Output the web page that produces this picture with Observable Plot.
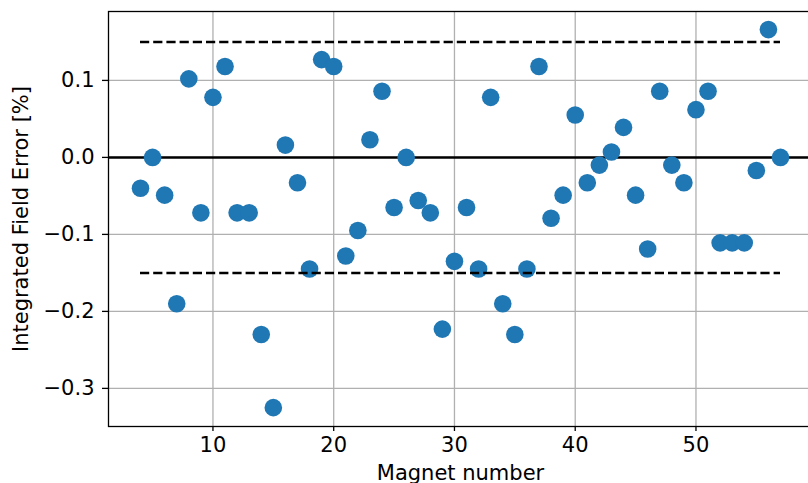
<!DOCTYPE html>
<html><head><meta charset="utf-8">
<script src="https://cdn.jsdelivr.net/npm/d3@7"></script>
<script src="https://cdn.jsdelivr.net/npm/@observablehq/plot@0.6"></script>
<style>html,body{margin:0;padding:0;overflow:hidden;background:#fff}#chart svg{display:block;max-width:none !important}</style>
</head><body><div id="chart"></div>
<script>
const magnets = [4,5,6,7,8,9,10,11,12,13,14,15,16,17,18,19,20,21,22,23,24,25,26,27,28,29,30,
  31,32,33,34,35,36,37,38,39,40,41,42,43,44,45,46,47,48,49,50,51,52,53,54,55,56,57];
const errors = [-0.040,0.000,-0.049,-0.190,0.102,-0.072,0.078,0.118,-0.072,-0.072,-0.230,-0.325,
  0.016,-0.033,-0.145,0.127,0.118,-0.128,-0.095,0.023,0.086,-0.065,0.000,-0.056,-0.072,-0.223,
  -0.135,-0.065,-0.145,0.078,-0.190,-0.230,-0.145,0.118,-0.079,-0.049,0.055,-0.033,-0.010,0.007,
  0.039,-0.049,-0.119,0.086,-0.010,-0.033,0.062,0.086,-0.111,-0.111,-0.111,-0.017,0.166,0.000];
const tolerance = [-0.15, 0.15];
const xTicks = [10, 20, 30, 40, 50];
const yTicks = [-0.3, -0.2, -0.1, 0.0, 0.1];
const xLabel = "Magnet number";
const yLabel = "Integrated Field Error [%]";

const data = magnets.map((m, i) => ({magnet: m, error: errors[i]}));

const chart = Plot.plot({
  width: 816, height: 483,
  marginLeft: 108, marginRight: 4, marginTop: 11, marginBottom: 57,
  style: {fontFamily: "DejaVu Sans", fontSize: "21px", color: "black", background: "white", maxWidth: "none"},
  x: {domain: [1.35, 59.65]},
  y: {domain: [-0.3495, 0.1895]},
  marks: [
    Plot.gridX(xTicks, {stroke: "#b0b0b0", strokeOpacity: 1, strokeWidth: 1.3}),
    Plot.gridY(yTicks, {stroke: "#b0b0b0", strokeOpacity: 1, strokeWidth: 1.3}),
    Plot.ruleY([0], {stroke: "black", strokeWidth: 2.5}),
    Plot.dot(data, {x: "magnet", y: "error", r: 8.8, fill: "#1f77b4"}),
    Plot.ruleY(tolerance, {x1: magnets[0], x2: magnets[magnets.length - 1], stroke: "black", strokeWidth: 2.5, strokeDasharray: "9.2,4"}),
    Plot.frame({stroke: "black", strokeWidth: 1.3}),
    Plot.axisX(xTicks, {tickSize: 5, tickPadding: 6, fontSize: 21, label: null, strokeWidth: 1.3}),
    Plot.axisY(yTicks, {tickSize: 6, tickPadding: 8, fontSize: 21, label: null, strokeWidth: 1.3, tickFormat: d3.format(".1f")}),
    Plot.text([xLabel], {text: d => d, frameAnchor: "bottom", dy: 39, lineAnchor: "top", textAnchor: "middle", fontSize: 21}),
    Plot.text([yLabel], {text: d => d, frameAnchor: "left", dx: -87, rotate: -90, lineAnchor: "middle", textAnchor: "middle", fontSize: 21})
  ]
});
document.getElementById("chart").appendChild(chart);
</script>
</body></html>
